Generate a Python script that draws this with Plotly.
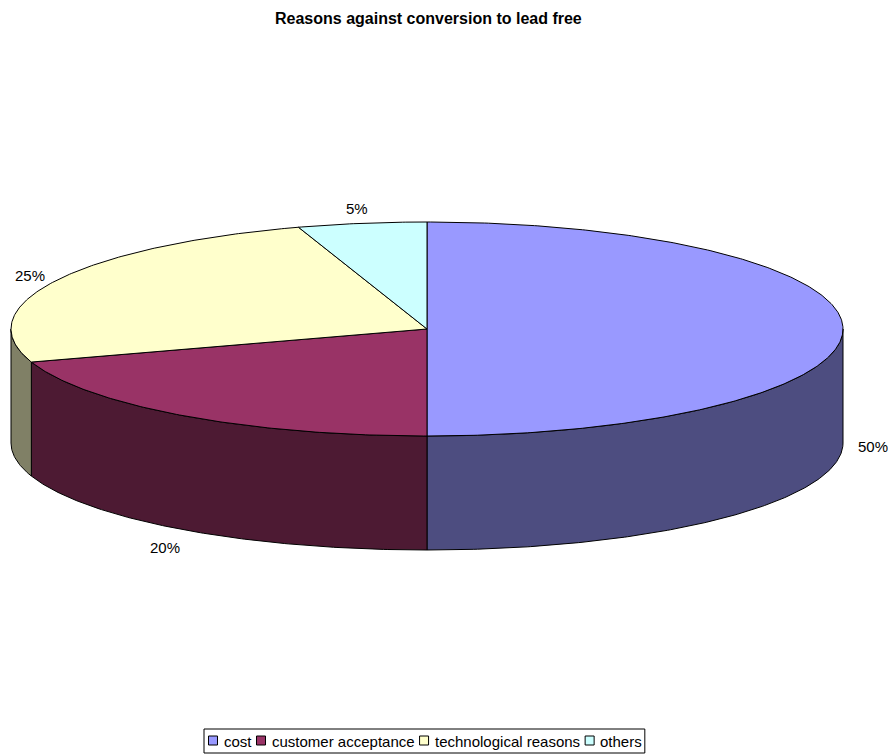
import math
import plotly.graph_objects as go

# ---- data ----
categories = ["cost", "customer acceptance", "technological reasons", "others"]
shares = [50, 20, 25, 5]
label_texts = ["50%", "20%", "25%", "5%"]
top_colors = ["#9999FF", "#993366", "#FFFFCC", "#CCFFFF"]
side_colors = ["#4D4D80", "#4D1A33", "#808066", "#668080"]
title_text = "Reasons against conversion to lead free"

# ---- layout parameters (pixels) ----
W, H = 888, 754
CX, CY = 427.0, 329.0      # centre of the top ellipse
RX, RY = 416.0, 107.0      # radii of the top ellipse
DEPTH = 114.0              # thickness of the pie
FONT = "Liberation Sans, Arial, sans-serif"
FS = 15

def pt(theta_deg, drop=0.0):
    t = math.radians(theta_deg)
    return CX + RX * math.sin(t), CY - RY * math.cos(t) + drop

def arc(a0, a1, drop=0.0, step=0.5):
    n = max(2, int(abs(a1 - a0) / step) + 1)
    xs, ys = [], []
    for i in range(n + 1):
        a = a0 + (a1 - a0) * i / n
        x, y = pt(a, drop)
        xs.append(x); ys.append(y)
    return xs, ys

fig = go.Figure()

total = float(sum(shares))
bounds = []
acc = 0.0
for v in shares:
    a0 = acc / total * 360.0
    acc += v
    a1 = acc / total * 360.0
    bounds.append((a0, a1))

# side walls (front half only: 90..270 deg clockwise from top)
for (a0, a1), sc in zip(bounds, side_colors):
    s0, s1 = max(a0, 90.0), min(a1, 270.0)
    if s1 <= s0:
        continue
    tx, ty = arc(s0, s1)
    bx, by = arc(s1, s0, DEPTH)
    fig.add_trace(go.Scatter(x=tx + bx + [tx[0]], y=ty + by + [ty[0]], mode="lines",
                             fill="toself", fillcolor=sc,
                             line=dict(color="black", width=1),
                             hoverinfo="skip", showlegend=False))

# top faces
for (a0, a1), tc in zip(bounds, top_colors):
    ax, ay = arc(a0, a1)
    fig.add_trace(go.Scatter(x=[CX] + ax + [CX], y=[CY] + ay + [CY], mode="lines",
                             fill="toself", fillcolor=tc,
                             line=dict(color="black", width=1),
                             hoverinfo="skip", showlegend=False))

# percentage labels
for (a0, a1), txt in zip(bounds, label_texts):
    mid = (a0 + a1) / 2.0
    front = 90.0 <= mid <= 270.0
    ax, ay = pt(mid, DEPTH if front else 0.0)
    s, c = math.sin(math.radians(mid)), math.cos(math.radians(mid))
    lx, ly = ax + s * 30.0, ay - c * 18.0 + 3.0
    fig.add_annotation(x=lx, y=ly, text=txt, showarrow=False, xanchor="center",
                       yanchor="middle", font=dict(family=FONT, size=FS, color="black"))

# title
fig.add_annotation(x=428, y=18, text="<b>" + title_text + "</b>", showarrow=False,
                   xanchor="center", yanchor="middle",
                   font=dict(family=FONT, size=16, color="black"))

# legend (manual, Excel-like compact spacing)
AW = {'a':556,'b':556,'c':500,'d':556,'e':556,'f':278,'g':556,'h':556,'i':222,'j':222,
      'k':500,'l':222,'m':833,'n':556,'o':556,'p':556,'q':556,'r':333,'s':500,'t':278,
      'u':556,'v':500,'w':722,'x':500,'y':500,'z':500,' ':278}
def text_w(s):
    return sum(AW.get(ch, 556) for ch in s) * FS / 1000.0

LEG_Y = 740.5
x = 213.0
first = x
last_end = x
for name, tc in zip(categories, top_colors):
    fig.add_trace(go.Scatter(x=[x], y=[LEG_Y], mode="markers",
                             marker=dict(symbol="square", size=9, color=tc,
                                         line=dict(color="black", width=1)),
                             hoverinfo="skip", showlegend=False))
    tx0 = x + 8.5
    fig.add_annotation(x=tx0, y=LEG_Y + 0.5, text=name, showarrow=False, xanchor="left",
                       yanchor="middle", font=dict(family=FONT, size=FS, color="black"))
    last_end = tx0 + text_w(name)
    x = last_end + 12.0

fig.add_shape(type="rect", x0=first - 9, x1=last_end + 5, y0=729, y1=753,
              line=dict(color="black", width=1), fillcolor="rgba(0,0,0,0)", layer="below")

fig.update_layout(
    width=W, height=H, autosize=False,
    margin=dict(l=0, r=0, t=0, b=0),
    paper_bgcolor="white", plot_bgcolor="white",
    xaxis=dict(range=[0, W], visible=False, fixedrange=True),
    yaxis=dict(range=[H, 0], visible=False, fixedrange=True),
    showlegend=False,
)

fig.write_html(
    "out.html",
    config={"displayModeBar": False},
    post_script="document.body.style.margin='0';document.documentElement.style.overflow='hidden';",
)
